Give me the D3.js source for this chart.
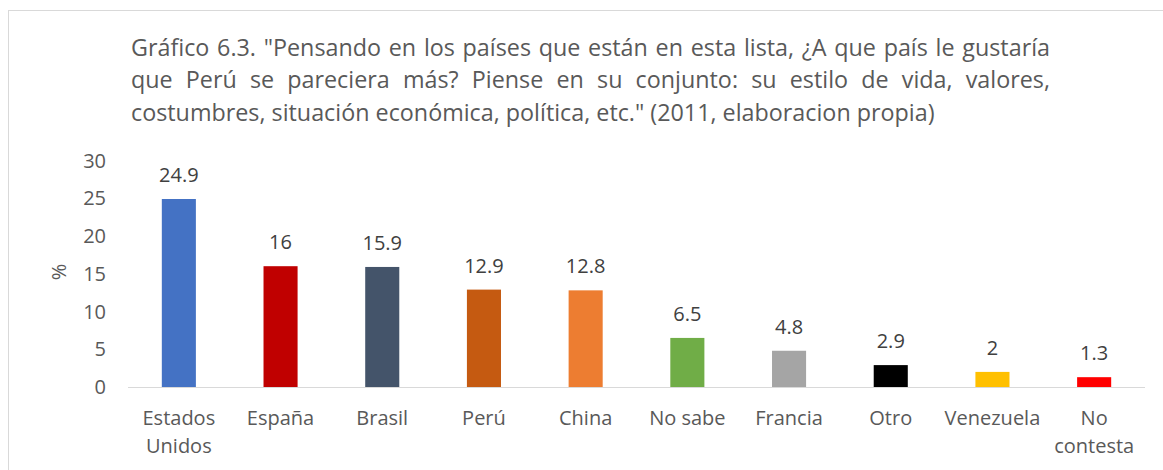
<!DOCTYPE html>
<html>
<head>
<meta charset="utf-8">
<script src="https://cdn.jsdelivr.net/npm/d3@7"></script>
<style>
  body { margin: 0; background: #fff; }
  svg text { font-family: "Open Sans", Lato, sans-serif; }
</style>
</head>
<body>
<div id="chart"></div>
<script>
// chart values
const categories = [["Estados", "Unidos"], ["España"], ["Brasil"], ["Perú"], ["China"],
    ["No sabe"], ["Francia"], ["Otro"], ["Venezuela"], ["No", "contesta"]];
const values = [24.9, 16, 15.9, 12.9, 12.8, 6.5, 4.8, 2.9, 2, 1.3];
const barColors = ["#4472c4", "#c00000", "#44546a", "#c55a11", "#ed7d31",
    "#70ad47", "#a5a5a5", "#000000", "#ffc000", "#ff0000"];
const yTicks = [0, 5, 10, 15, 20, 25, 30];
const titleLines = [
    "Gráfico 6.3. \"Pensando en los países que están en esta lista, ¿A que país le gustaría",
    "que Perú se pareciera más? Piense en su conjunto: su estilo de vida, valores,",
    "costumbres, situación económica, política, etc.\" (2011, elaboracion propia)"
];

const width = 1163, height = 470;
const svg = d3.select("#chart").append("svg")
    .attr("width", width)
    .attr("height", height);

// outer chart border (cropped at right/bottom)
svg.append("rect")
    .attr("x", 8.5).attr("y", 10.5)
    .attr("width", 1170).attr("height", 480)
    .attr("fill", "#fff")
    .attr("stroke", "#d9d9d9");

function textWidth(s, size) {
    let tmp = svg.append("text").attr("font-size", size + "px").text(s);
    let len = tmp.node().getComputedTextLength();
    tmp.remove();
    return len;
}

// title: size chosen so last line ends where it does in the original, first lines justified
let titleLeft = 131, titleRight = 1050;
let titleSize = 20 * 804 / textWidth(titleLines[2], 20);
titleSize = Math.min(24, Math.max(19, titleSize));
titleLines.forEach(function(line, i) {
    let t = svg.append("text")
        .attr("y", 55.5 + i * 32.5)
        .attr("font-size", titleSize + "px")
        .attr("fill", "#595959");
    if (i < titleLines.length - 1) {
        let words = line.split(" ");
        let widths = words.map(function(w) { return textWidth(w, titleSize); });
        let gap = (titleRight - titleLeft - d3.sum(widths)) / (words.length - 1);
        let x = titleLeft;
        words.forEach(function(w, j) {
            t.append("tspan").attr("x", x).text(w);
            x += widths[j] + gap;
        });
    } else {
        t.attr("x", titleLeft).text(line);
    }
});

let x = d3.scaleBand()
    .domain(d3.range(values.length))
    .range([128, 1145])
    .paddingInner(0.665)
    .paddingOuter(0.3325);
let y = d3.scaleLinear()
    .domain([0, 30])
    .range([387, 160.5]);

// y tick labels
svg.selectAll(".ytick")
    .data(yTicks)
    .enter().append("text")
    .attr("class", "ytick")
    .attr("x", 106)
    .attr("y", function(d) { return y(d) + 7; })
    .attr("text-anchor", "end")
    .attr("font-size", "20px")
    .attr("fill", "#595959")
    .text(function(d) { return d; });

svg.append("text")
    .attr("transform", "translate(66,272) rotate(-90)")
    .attr("text-anchor", "middle")
    .attr("font-size", "20px")
    .attr("fill", "#595959")
    .text("%");

// bars
svg.selectAll(".bar")
    .data(values)
    .enter().append("rect")
    .attr("class", "bar")
    .attr("x", function(d, i) { return x(i); })
    .attr("y", function(d) { return y(d); })
    .attr("width", x.bandwidth())
    .attr("height", function(d) { return y(0) - y(d); })
    .attr("fill", function(d, i) { return barColors[i]; });

// baseline
svg.append("line")
    .attr("x1", 128).attr("x2", 1145)
    .attr("y1", y(0) + 0.5).attr("y2", y(0) + 0.5)
    .attr("stroke", "#d9d9d9")
    .attr("stroke-width", 1.2);

// data labels
svg.selectAll(".label")
    .data(values)
    .enter().append("text")
    .attr("class", "label")
    .attr("x", function(d, i) { return x(i) + x.bandwidth() / 2; })
    .attr("y", function(d) { return y(d) - 17; })
    .attr("text-anchor", "middle")
    .attr("font-size", "20px")
    .attr("fill", "#404040")
    .text(function(d) { return d; });

// category labels
svg.selectAll(".cat")
    .data(categories)
    .enter().append("text")
    .attr("class", "cat")
    .attr("text-anchor", "middle")
    .attr("font-size", "20px")
    .attr("fill", "#595959")
    .each(function(d, i) {
        let cx = x(i) + x.bandwidth() / 2;
        d3.select(this).selectAll("tspan")
            .data(d)
            .enter().append("tspan")
            .attr("x", cx)
            .attr("y", function(s, j) { return 425 + j * 28; })
            .text(function(s) { return s; });
    });
</script>
</body>
</html>
